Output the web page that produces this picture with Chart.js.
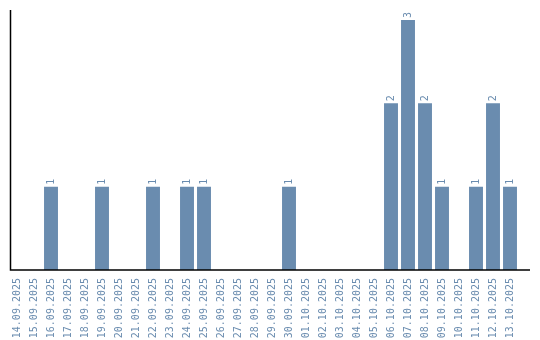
<!DOCTYPE html>
<html>
<head>
<meta charset="utf-8">
<script src="https://cdn.jsdelivr.net/npm/chart.js@4"></script>
<style>
  html, body { margin: 0; padding: 0; background: #fff; }
  #chart { display: block; }
</style>
</head>
<body>
<canvas id="chart" width="540" height="340"></canvas>
<script>
const dates = [
  "14.09.2025", "15.09.2025", "16.09.2025", "17.09.2025", "18.09.2025",
  "19.09.2025", "20.09.2025", "21.09.2025", "22.09.2025", "23.09.2025",
  "24.09.2025", "25.09.2025", "26.09.2025", "27.09.2025", "28.09.2025",
  "29.09.2025", "30.09.2025", "01.10.2025", "02.10.2025", "03.10.2025",
  "04.10.2025", "05.10.2025", "06.10.2025", "07.10.2025", "08.10.2025",
  "09.10.2025", "10.10.2025", "11.10.2025", "12.10.2025", "13.10.2025"
];
const counts = [
  0, 0, 1, 0, 0,
  1, 0, 0, 1, 0,
  1, 1, 0, 0, 0,
  0, 1, 0, 0, 0,
  0, 0, 2, 3, 2,
  1, 0, 1, 2, 1
];

const barColor = "#6a8caf";
const labelFont = "10px 'DejaVu Sans Mono', monospace";

// value labels, drawn rotated above each bar
const valueLabels = {
  id: "valueLabels",
  afterDatasetsDraw(chart) {
    const ctx = chart.ctx;
    const meta = chart.getDatasetMeta(0);
    ctx.save();
    ctx.fillStyle = barColor;
    ctx.font = labelFont;
    ctx.textAlign = "left";
    ctx.textBaseline = "middle";
    meta.data.forEach((bar, i) => {
      if (!counts[i]) return;
      ctx.save();
      ctx.translate(bar.x, bar.y - 2);
      ctx.rotate(-Math.PI / 2);
      ctx.fillText(String(counts[i]), 0, 0);
      ctx.restore();
    });
    ctx.restore();
  }
};

// plain black axis lines
const axisLines = {
  id: "axisLines",
  afterDraw(chart) {
    const ctx = chart.ctx;
    const a = chart.chartArea;
    ctx.save();
    ctx.strokeStyle = "#000";
    ctx.lineWidth = 1.5;
    ctx.beginPath();
    ctx.moveTo(10.5, a.top);
    ctx.lineTo(10.5, a.bottom);
    ctx.lineTo(530, a.bottom);
    ctx.stroke();
    ctx.restore();
  }
};

new Chart(document.getElementById("chart"), {
  type: "bar",
  data: {
    labels: dates,
    datasets: [{
      data: counts,
      backgroundColor: barColor,
      borderWidth: 0,
      barPercentage: 0.82,
      categoryPercentage: 1
    }]
  },
  options: {
    responsive: false,
    animation: false,
    layout: { padding: { left: 8.5, right: 21.5, top: 10, bottom: 0 } },
    plugins: {
      legend: { display: false },
      tooltip: { enabled: false }
    },
    scales: {
      x: {
        offset: true,
        grid: { display: false },
        border: { display: false },
        afterFit(scale) { scale.height = 70; },
        ticks: {
          autoSkip: false,
          minRotation: 90,
          maxRotation: 90,
          padding: 0,
          color: barColor,
          font: { family: "'DejaVu Sans Mono', monospace", size: 10 }
        }
      },
      y: {
        display: false,
        min: 0,
        max: 3.12
      }
    }
  },
  plugins: [valueLabels, axisLines]
});
</script>
</body>
</html>
